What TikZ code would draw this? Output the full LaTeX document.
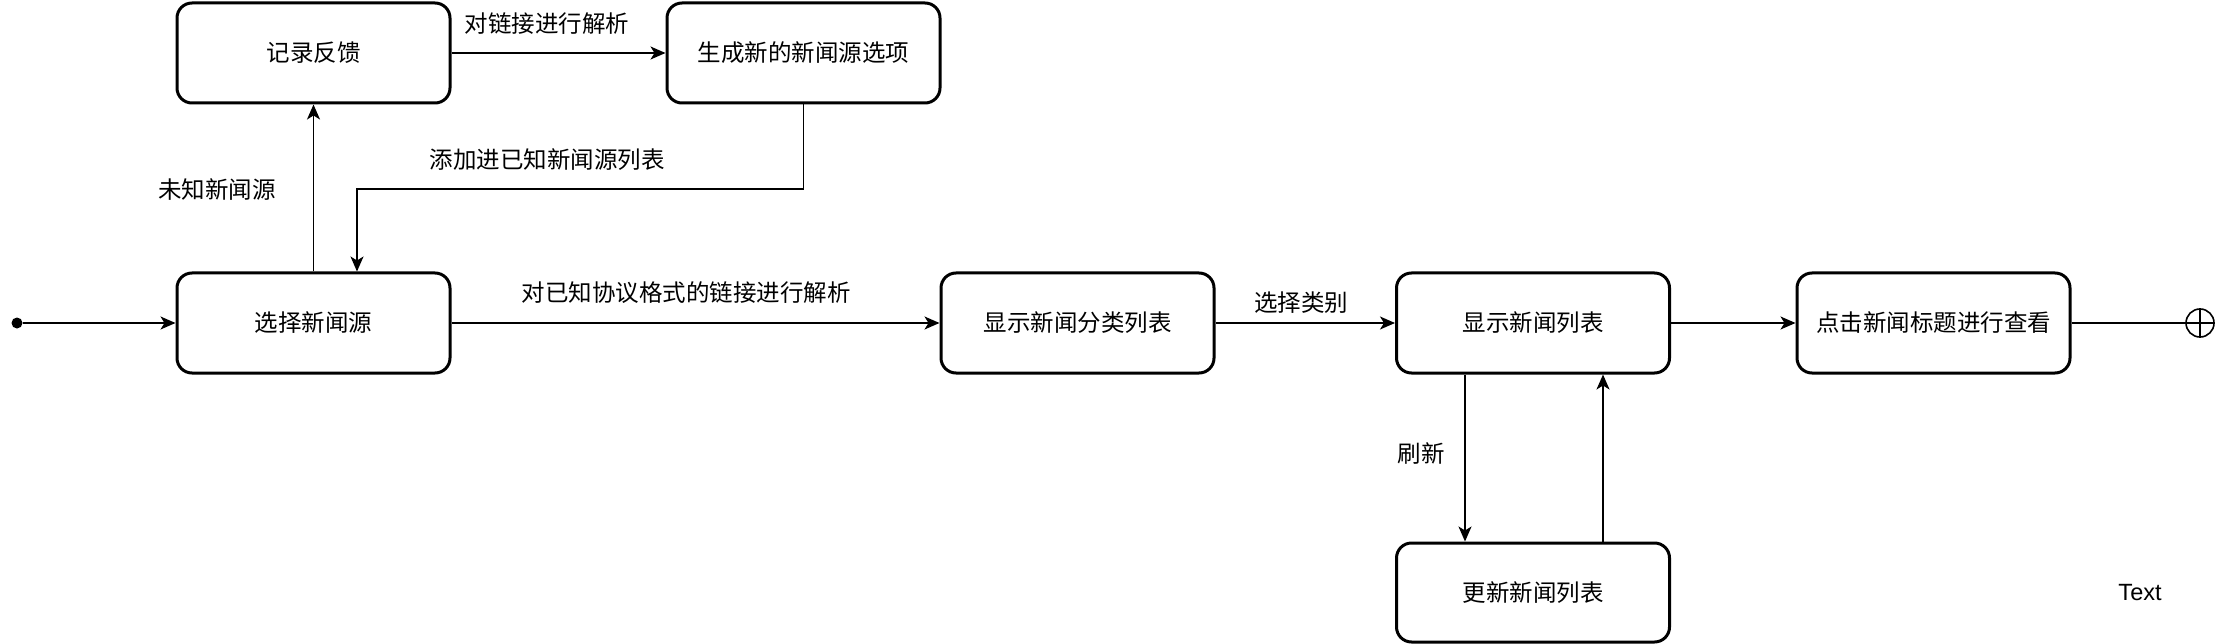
\documentclass[tikz,border=0pt]{standalone}
\usepackage{fontspec}
\setmainfont{Liberation Sans}
\newfontfamily\cjk{Noto Sans CJK SC}
\usetikzlibrary{arrows.meta}
\begin{document}
\begin{tikzpicture}[x=1pt,y=-1pt,
  box/.style={draw,line width=3pt,rounded corners=15pt,minimum width=273pt,minimum height=100pt,
    font=\cjk\fontsize{23.5}{28}\selectfont,align=center,inner sep=0pt},
  lbl/.style={font=\cjk\fontsize{23.5}{28}\selectfont,inner sep=0pt},
  conn/.style={line width=1.6pt,-{Stealth[length=15pt,width=13pt,inset=4pt]}},
  plain/.style={line width=1.6pt}]
\fill[white] (0,0) rectangle (2234,644);
\useasboundingbox (0,0) rectangle (2234,644);

\node[box] (fb) at (313.5,53) {记录反馈};
\node[box] (gen) at (803.5,53) {生成新的新闻源选项};
\node[box] (sel) at (313.5,323) {选择新闻源};
\node[box] (cat) at (1077.5,323) {显示新闻分类列表};
\node[box] (list) at (1533,323) {显示新闻列表};
\node[box,minimum height=99pt] (upd) at (1533,592.5) {更新新闻列表};
\node[box] (click) at (1933.5,323) {点击新闻标题进行查看};

\node[circle,fill=black,inner sep=0pt,minimum size=11pt] (start) at (17,323) {};
\node[circle,draw,line width=1.6pt,inner sep=0pt,minimum size=28pt] (end) at (2200,323) {};
\draw[plain] (end.north) -- (end.south);
\draw[plain] (end.west) -- (end.east);

\coordinate (j) at (357,189);

\draw[conn] (start) -- (sel.west);
\draw[conn] (sel.north) -- (fb.south);
\draw[conn] (fb.east) -- (gen.west);
\draw[conn] (gen.south) |- (j) -- (j |- sel.north);
\draw[conn] (sel.east) -- (cat.west);
\draw[conn] (cat.east) -- (list.west);
\draw[conn] (list.east) -- (click.west);
\draw[plain] (click.east) -- (end.west);
\draw[conn] ([xshift=-68pt]list.south) -- ([xshift=-68pt]upd.north);
\draw[conn] ([xshift=70pt]upd.north) -- ([xshift=70pt]list.south);

\node[lbl] (l1) at (547,24) {对链接进行解析};
\node[lbl] (l2) at (547,160) {添加进已知新闻源列表};
\node[lbl] (l3) at (217,190) {未知新闻源};
\node[lbl] (l4) at (686,293) {对已知协议格式的链接进行解析};
\node[lbl] (l5) at (1301,303) {选择类别};
\node[lbl] (l6) at (1421,454) {刷新};
\node[font=\fontsize{23.5}{28}\selectfont,inner sep=0pt] (t) at (2140,593) {Text};
\end{tikzpicture}
\end{document}
